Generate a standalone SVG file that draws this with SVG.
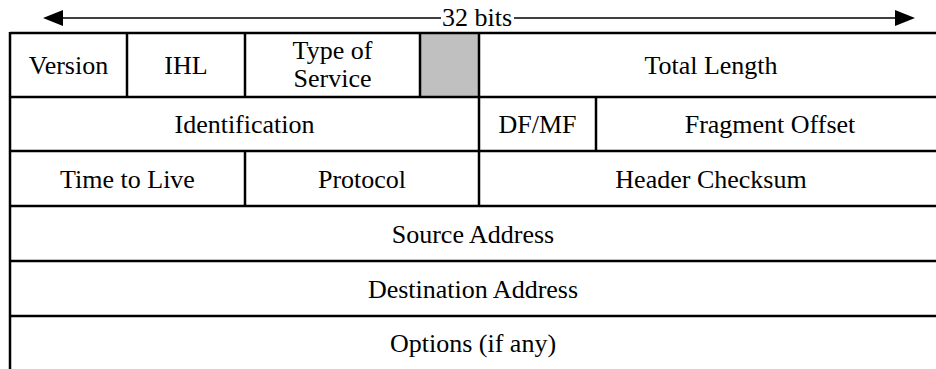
<svg xmlns="http://www.w3.org/2000/svg" width="936" height="369" viewBox="0 0 936 369">
<style>
  text { font-family: 'Liberation Serif', 'Times New Roman', Times, serif; font-size: 26px; fill: #000; text-anchor: middle; }
  .b { stroke: #000; stroke-width: 2.5; fill: none; }
  .a { stroke: #000; stroke-width: 1.5; fill: none; }
</style>
<defs>
  <marker id="ah" viewBox="0 0 20 16" refX="0" refY="8" markerWidth="20" markerHeight="16" markerUnits="userSpaceOnUse" orient="auto">
    <polygon points="0,0 20,8 0,16" fill="#000"/>
  </marker>
</defs>
<rect width="936" height="369" fill="#fff"/>
<g id="connectors">
  <line class="a" x1="441" y1="18" x2="63" y2="18" marker-end="url(#ah)"/>
  <line class="a" x1="514" y1="18" x2="895" y2="18" marker-end="url(#ah)"/>
</g>
<text id="width-label" x="477" y="26">32 bits</text>
<g id="grid">
  <rect x="420" y="33" width="59" height="64" fill="#c0c0c0"/>
  <line class="b" x1="10" y1="33" x2="936" y2="33"/>
  <line class="b" x1="10" y1="97" x2="936" y2="97"/>
  <line class="b" x1="10" y1="151" x2="936" y2="151"/>
  <line class="b" x1="10" y1="206" x2="936" y2="206"/>
  <line class="b" x1="10" y1="261" x2="936" y2="261"/>
  <line class="b" x1="10" y1="316" x2="936" y2="316"/>
  <line class="b" x1="10" y1="32" x2="10" y2="369"/>
  <line class="b" x1="127" y1="33" x2="127" y2="97"/>
  <line class="b" x1="245" y1="33" x2="245" y2="97"/>
  <line class="b" x1="420" y1="33" x2="420" y2="97"/>
  <line class="b" x1="479" y1="33" x2="479" y2="206"/>
  <line class="b" x1="596" y1="97" x2="596" y2="151"/>
  <line class="b" x1="245" y1="151" x2="245" y2="206"/>
</g>
<g id="version"><text x="68.5" y="74">Version</text></g>
<g id="ihl"><text x="186" y="74">IHL</text></g>
<g id="tos"><text x="332.5" y="59">Type of</text><text x="332.5" y="87">Service</text></g>
<g id="total-length"><text x="711" y="74">Total Length</text></g>
<g id="identification"><text x="244.5" y="133">Identification</text></g>
<g id="dfmf"><text x="537.5" y="133">DF/MF</text></g>
<g id="fragment-offset"><text x="770" y="133">Fragment Offset</text></g>
<g id="ttl"><text x="127.5" y="188">Time to Live</text></g>
<g id="protocol"><text x="362" y="188">Protocol</text></g>
<g id="checksum"><text x="711" y="188">Header Checksum</text></g>
<g id="source"><text x="473" y="243">Source Address</text></g>
<g id="destination"><text x="473" y="298">Destination Address</text></g>
<g id="options"><text x="473" y="352">Options (if any)</text></g>
</svg>
